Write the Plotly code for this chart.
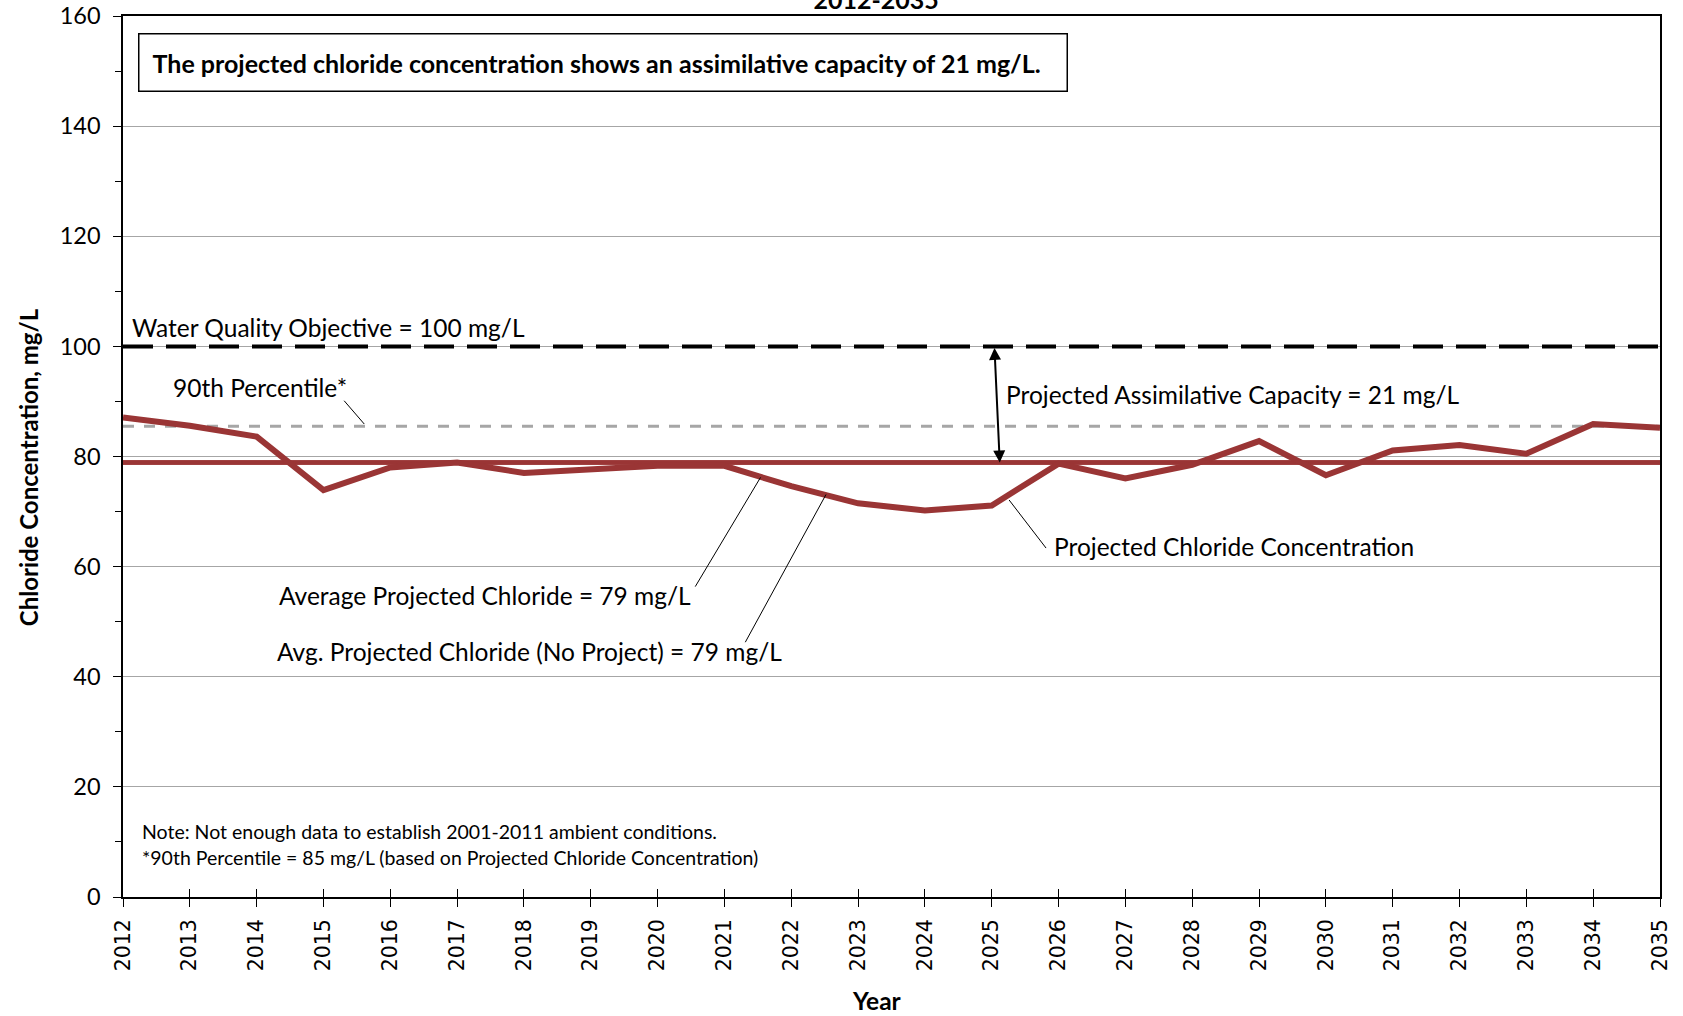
import plotly.graph_objects as go

# Data
years = list(range(2012, 2036))
projected_chloride = [87.1, 85.6, 83.6, 73.9, 78.0, 78.9, 77.0, 77.6, 78.3, 78.3, 74.6, 71.5,
                      70.2, 71.1, 78.7, 76.0, 78.5, 82.8, 76.6, 81.1, 82.1, 80.5, 85.9, 85.2]
average_projected = 78.9
average_no_project = 78.9
percentile_90 = 85.5
water_quality_objective = 100
y_ticks = [0, 20, 40, 60, 80, 100, 120, 140, 160]

RED = "#9A3535"
FONT = "Lato"

fig = go.Figure()

# Water quality objective (black dashed)
fig.add_trace(go.Scatter(
    x=[years[0], years[-1]], y=[water_quality_objective] * 2, mode="lines",
    line=dict(color="black", width=4, dash="30px,13px"), hoverinfo="skip"))

# 90th percentile (grey dashed)
fig.add_trace(go.Scatter(
    x=[years[0], years[-1]], y=[percentile_90] * 2, mode="lines",
    line=dict(color="#A6A6A6", width=3, dash="11px,10px"), hoverinfo="skip"))

# Average lines (with and without project overlap)
fig.add_trace(go.Scatter(
    x=[years[0], years[-1]], y=[average_no_project] * 2, mode="lines",
    line=dict(color=RED, width=4.5), hoverinfo="skip"))
fig.add_trace(go.Scatter(
    x=[years[0], years[-1]], y=[average_projected] * 2, mode="lines",
    line=dict(color=RED, width=4.5), hoverinfo="skip"))

# Projected chloride concentration
fig.add_trace(go.Scatter(
    x=years, y=projected_chloride, mode="lines",
    line=dict(color=RED, width=6), hoverinfo="skip"))

# invisible trace to activate overlay axis for inside ticks
fig.add_trace(go.Scatter(x=[years[0]], y=[0], xaxis="x2", yaxis="y2",
                         mode="markers", marker=dict(opacity=0), hoverinfo="skip"))

annotations = []


def label(text, x, y, size=24.5, anchor="left"):
    annotations.append(dict(x=x, y=y, xref="x", yref="y", text=text, showarrow=False,
                            xanchor=anchor, yanchor="middle",
                            font=dict(family=FONT, size=size, color="black")))


def leader(x0, y0, x1, y1):
    annotations.append(dict(x=x1, y=y1, ax=x0, ay=y0, xref="x", yref="y",
                            axref="x", ayref="y", text="", showarrow=True,
                            arrowhead=0, arrowwidth=1, arrowcolor="black"))


label("Water Quality Objective = 100 mg/L", 2012.1, 103.4)
label("90th Percentile*", 2012.72, 92.6)
leader(2015.29, 90.4, 2015.61, 85.9)
label("Projected Assimilative Capacity = 21 mg/L", 2025.18, 91.2)
label("Projected Chloride Concentration", 2025.9, 63.7)
leader(2025.83, 63.1, 2025.26, 72.1)
label("Average Projected Chloride = 79 mg/L", 2014.3, 54.8)
leader(2020.55, 56.1, 2021.54, 76.2)
label("Avg. Projected Chloride (No Project) = 79 mg/L", 2014.27, 44.6)
leader(2021.30, 46.0, 2022.52, 73.1)
label("Note: Not enough data to establish 2001-2011 ambient conditions.", 2012.26, 11.9, size=19.5)
label("*90th Percentile = 85 mg/L (based on Projected Chloride Concentration)", 2012.26, 7.2, size=19.5)

# Double-headed arrow for assimilative capacity
annotations.append(dict(x=2025.12, y=average_projected, ax=2025.04, ay=water_quality_objective,
                        xref="x", yref="y", axref="x", ayref="y", text="", showarrow=True,
                        arrowhead=2, startarrowhead=2, arrowside="end+start",
                        arrowsize=1.2, startarrowsize=1.2, arrowwidth=2, arrowcolor="black"))

# Boxed statement
annotations.append(dict(x=2012.23, y=151.6, xref="x", yref="y", xanchor="left", yanchor="middle",
                        text="<b>The projected chloride concentration shows an assimilative capacity of 21 mg/L.</b>&nbsp;&nbsp;",
                        showarrow=False, bordercolor="black", borderwidth=1.5, borderpad=13,
                        bgcolor="white", font=dict(family=FONT, size=25, color="black")))

# Axis titles
annotations.append(dict(x=-0.0617, y=0.488, xref="paper", yref="paper", textangle=-90,
                        text="<b>Chloride Concentration, mg/L</b>", showarrow=False,
                        xanchor="center", yanchor="middle",
                        font=dict(family=FONT, size=24, color="black")))
annotations.append(dict(x=0.4906, y=-0.118, xref="paper", yref="paper",
                        text="<b>Year</b>", showarrow=False,
                        xanchor="center", yanchor="middle",
                        font=dict(family=FONT, size=24.5, color="black")))

fig.update_layout(
    width=1683, height=1016,
    margin=dict(l=123, r=23, t=16, b=119),
    plot_bgcolor="white", paper_bgcolor="white",
    showlegend=False,
    title=dict(text="<b>2012-2035</b>", x=0.49, xanchor="center", xref="paper",
               y=1.0, yref="container", yanchor="middle",
               font=dict(family=FONT, size=25, color="black")),
    annotations=annotations,
    xaxis=dict(range=[years[0], years[-1]], tickmode="array", tickvals=years,
               ticktext=[str(y) for y in years], tickangle=-90,
               tickfont=dict(family="DejaVu Sans", size=20.5, color="black"),
               ticks="outside", ticklen=8, tickcolor="black", tickwidth=1,
               ticklabelstandoff=4, automargin=False,
               showline=True, linecolor="black", linewidth=2, mirror=True,
               showgrid=False, zeroline=False),
    xaxis2=dict(range=[years[0], years[-1]], overlaying="x", tickmode="array", tickvals=years,
                ticks="inside", ticklen=8, tickcolor="black", showticklabels=False,
                showgrid=False, zeroline=False, showline=False),
    yaxis=dict(range=[0, 160], tickmode="array", tickvals=y_ticks,
               tickfont=dict(family=FONT, size=23.5, color="black"),
               ticks="outside", ticklen=8, tickcolor="black",
               ticklabelstandoff=8, automargin=False,
               minor=dict(dtick=10, ticks="outside", ticklen=6, tickcolor="black", showgrid=False),
               showline=True, linecolor="black", linewidth=1.5, mirror=True,
               showgrid=True, gridcolor="#A6A6A6", gridwidth=1, zeroline=False),
    yaxis2=dict(range=[0, 160], overlaying="y", visible=False),
)

fig.write_html("out.html", config={"displayModeBar": False},
               post_script="document.body.style.margin='0';")
